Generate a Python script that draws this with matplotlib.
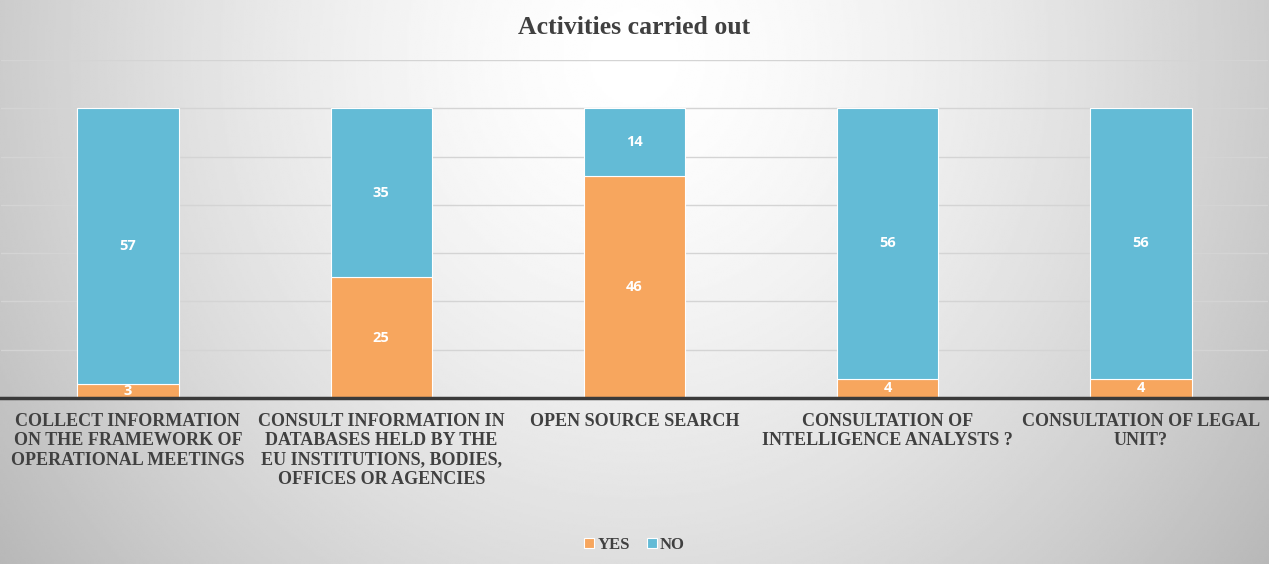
import matplotlib
matplotlib.use("Agg")
import matplotlib.pyplot as plt
import numpy as np

categories = [
    "COLLECT INFORMATION\nON THE FRAMEWORK OF\nOPERATIONAL MEETINGS",
    "CONSULT INFORMATION IN\nDATABASES HELD BY THE\nEU INSTITUTIONS, BODIES,\nOFFICES OR AGENCIES",
    "OPEN SOURCE SEARCH",
    "CONSULTATION OF\nINTELLIGENCE ANALYSTS ?",
    "CONSULTATION OF LEGAL\nUNIT?",
]
yes_counts = [3, 25, 46, 4, 4]
no_counts = [57, 35, 14, 56, 56]

YES_COLOR = "#F7A65E"
NO_COLOR = "#63BBD6"
TEXT_COLOR = "#404040"

fig = plt.figure(figsize=(12.69, 5.64), dpi=100)

# soft radial backdrop, brightest near the top middle
bg = fig.add_axes([0, 0, 1, 1], zorder=0)
gx, gy = np.meshgrid(np.linspace(-1, 1, 600), np.linspace(0, 1, 300))
dist = np.sqrt((gx / 1.0) ** 2 + ((gy - 0.1) / 1.2) ** 2)
shade = 1.0 - 0.2 * np.clip(dist, 0, 1.3) ** 1.5
bg.imshow(shade, cmap="gray", vmin=0, vmax=1, aspect="auto",
          extent=[0, 1, 0, 1], origin="upper", interpolation="bilinear")
bg.set_axis_off()

ax = fig.add_axes([0.001, 0.2943, 0.998, 0.5993], zorder=1)
ax.patch.set_alpha(0)

x = np.arange(len(categories))
width = 0.4
yes_bars = ax.bar(x, yes_counts, width, color=YES_COLOR, edgecolor="white",
                  linewidth=0.8, label="YES", zorder=3)
no_bars = ax.bar(x, no_counts, width, bottom=yes_counts, color=NO_COLOR,
                 edgecolor="white", linewidth=0.8, label="NO", zorder=3)

for bars in (yes_bars, no_bars):
    ax.bar_label(bars, label_type="center", color="white", fontsize=10.5,
                 fontweight="bold", family="Open Sans", zorder=4)

ax.set_xlim(-0.5, len(categories) - 0.5)
ax.set_ylim(0, 70)
ax.set_yticks(np.arange(0, 71, 10))
ax.yaxis.grid(True, color="#D4D4D4", linewidth=1)
ax.set_axisbelow(True)
ax.tick_params(axis="y", left=False, labelleft=False)
ax.tick_params(axis="x", bottom=False, pad=7)
ax.set_xticks(x)
ax.set_xticklabels(categories, family="Liberation Serif", fontweight="bold",
                   fontsize=13, color=TEXT_COLOR, linespacing=1.19, va="top")
for side in ("top", "right", "left"):
    ax.spines[side].set_visible(False)
ax.spines["bottom"].set_color("#3A3A3A")
ax.spines["bottom"].set_linewidth(2.5)
ax.spines["bottom"].set_zorder(5)

fig.text(0.5, 0.952, "Activities carried out", ha="center", va="center",
         family="Liberation Serif", fontweight="bold", fontsize=18.5,
         color=TEXT_COLOR)

leg = fig.legend(handles=[yes_bars, no_bars], labels=["YES", "NO"],
                 loc="center", bbox_to_anchor=(0.5, 0.034), ncol=2,
                 frameon=False, handlelength=0.6, handleheight=0.6,
                 handletextpad=0.2, columnspacing=1.0,
                 prop={"family": "Liberation Serif", "weight": "bold",
                       "size": 12})
for t in leg.get_texts():
    t.set_color(TEXT_COLOR)

fig.savefig("out.png", dpi=100)
